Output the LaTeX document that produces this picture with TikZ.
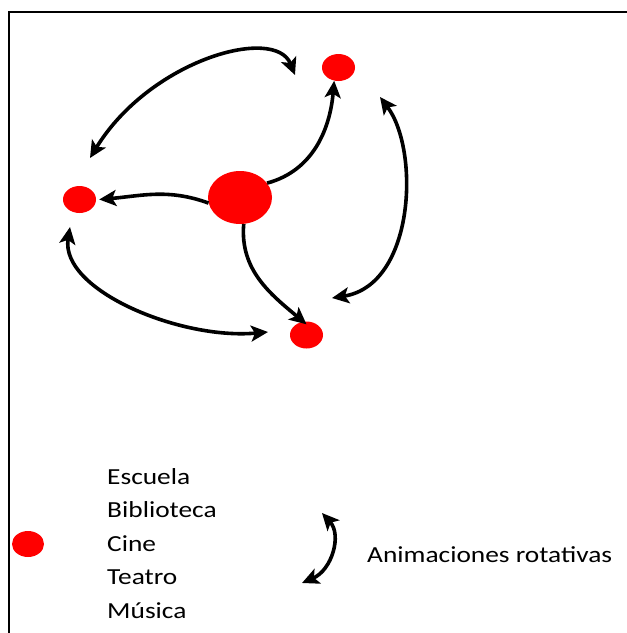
\documentclass[tikz,border=0pt]{standalone}
\usepackage{fontspec}
\setmainfont{Carlito}
\usetikzlibrary{arrows.meta,shapes.geometric}
\tikzset{
  spot/.style={ellipse, fill=red, inner sep=0pt},
  link/.style={line width=3.6pt, >={Stealth[length=17pt,width=16pt,inset=4pt]}},
  legendtext/.style={font=\fontsize{23}{28}\selectfont, inner sep=0pt, xscale=1.19}
}
\begin{document}
\begin{tikzpicture}[x=1pt, y=-1pt]
			\useasboundingbox (0,0) rectangle (627,633);
			\draw[line width=2pt] (627,12) -| (9,633);
			% places
			\node[spot, minimum width=64pt, minimum height=53pt] (hub) at (240,197.5) {};
			\node[spot, minimum width=33pt, minimum height=27pt] (top) at (338.5,67.5) {};
			\node[spot, minimum width=33pt, minimum height=27pt] (left) at (79.5,199.5) {};
			\node[spot, minimum width=33pt, minimum height=27pt] (bottom) at (306.5,335) {};
			% hub to places
			\draw[link, ->] (hub.28) to[out=15, in=-95] (top.-108);
			\draw[link, ->] (hub.190) to[out=160, in=5] ([xshift=3pt]left.east);
			\draw[link, ->] (hub.-82) to[out=-95, in=140] ([yshift=-3pt]bottom.north);
			% rotation
			\coordinate (rotA1) at (90,158);
			\coordinate (rotA2) at (295,75);
			\coordinate (rotB1) at (70,227);
			\coordinate (rotB2) at (268,332);
			\coordinate (rotC1) at (380,97);
			\coordinate (rotC2) at (332,298);
			\draw[link, <->] (rotA1) .. controls (150,60) and (275,25) .. (rotA2);
			\draw[link, <->] (rotB1) .. controls (60,290) and (180,340) .. (rotB2);
			\draw[link, <->] (rotC1) .. controls (420,150) and (415,285) .. (rotC2);
			% legend
			\node[spot, minimum width=32pt, minimum height=26pt] (key) at (28,544) {};
			\foreach \txt [count=\i] in {Escuela,Biblioteca,Cine,Teatro,Música} {
					\node[legendtext, anchor=base west] (item\i) at (107,450.5+33.5*\i) {\txt};
				}
			\coordinate (keyA) at (322,513);
			\coordinate (keyB) at (302,583);
			\draw[link, <->] (keyA) .. controls (342,535) and (332,570) .. (keyB);
			\node[legendtext, anchor=base west] (rotlabel) at (367,562) {Animaciones rotativas};
		\end{tikzpicture}
\end{document}
